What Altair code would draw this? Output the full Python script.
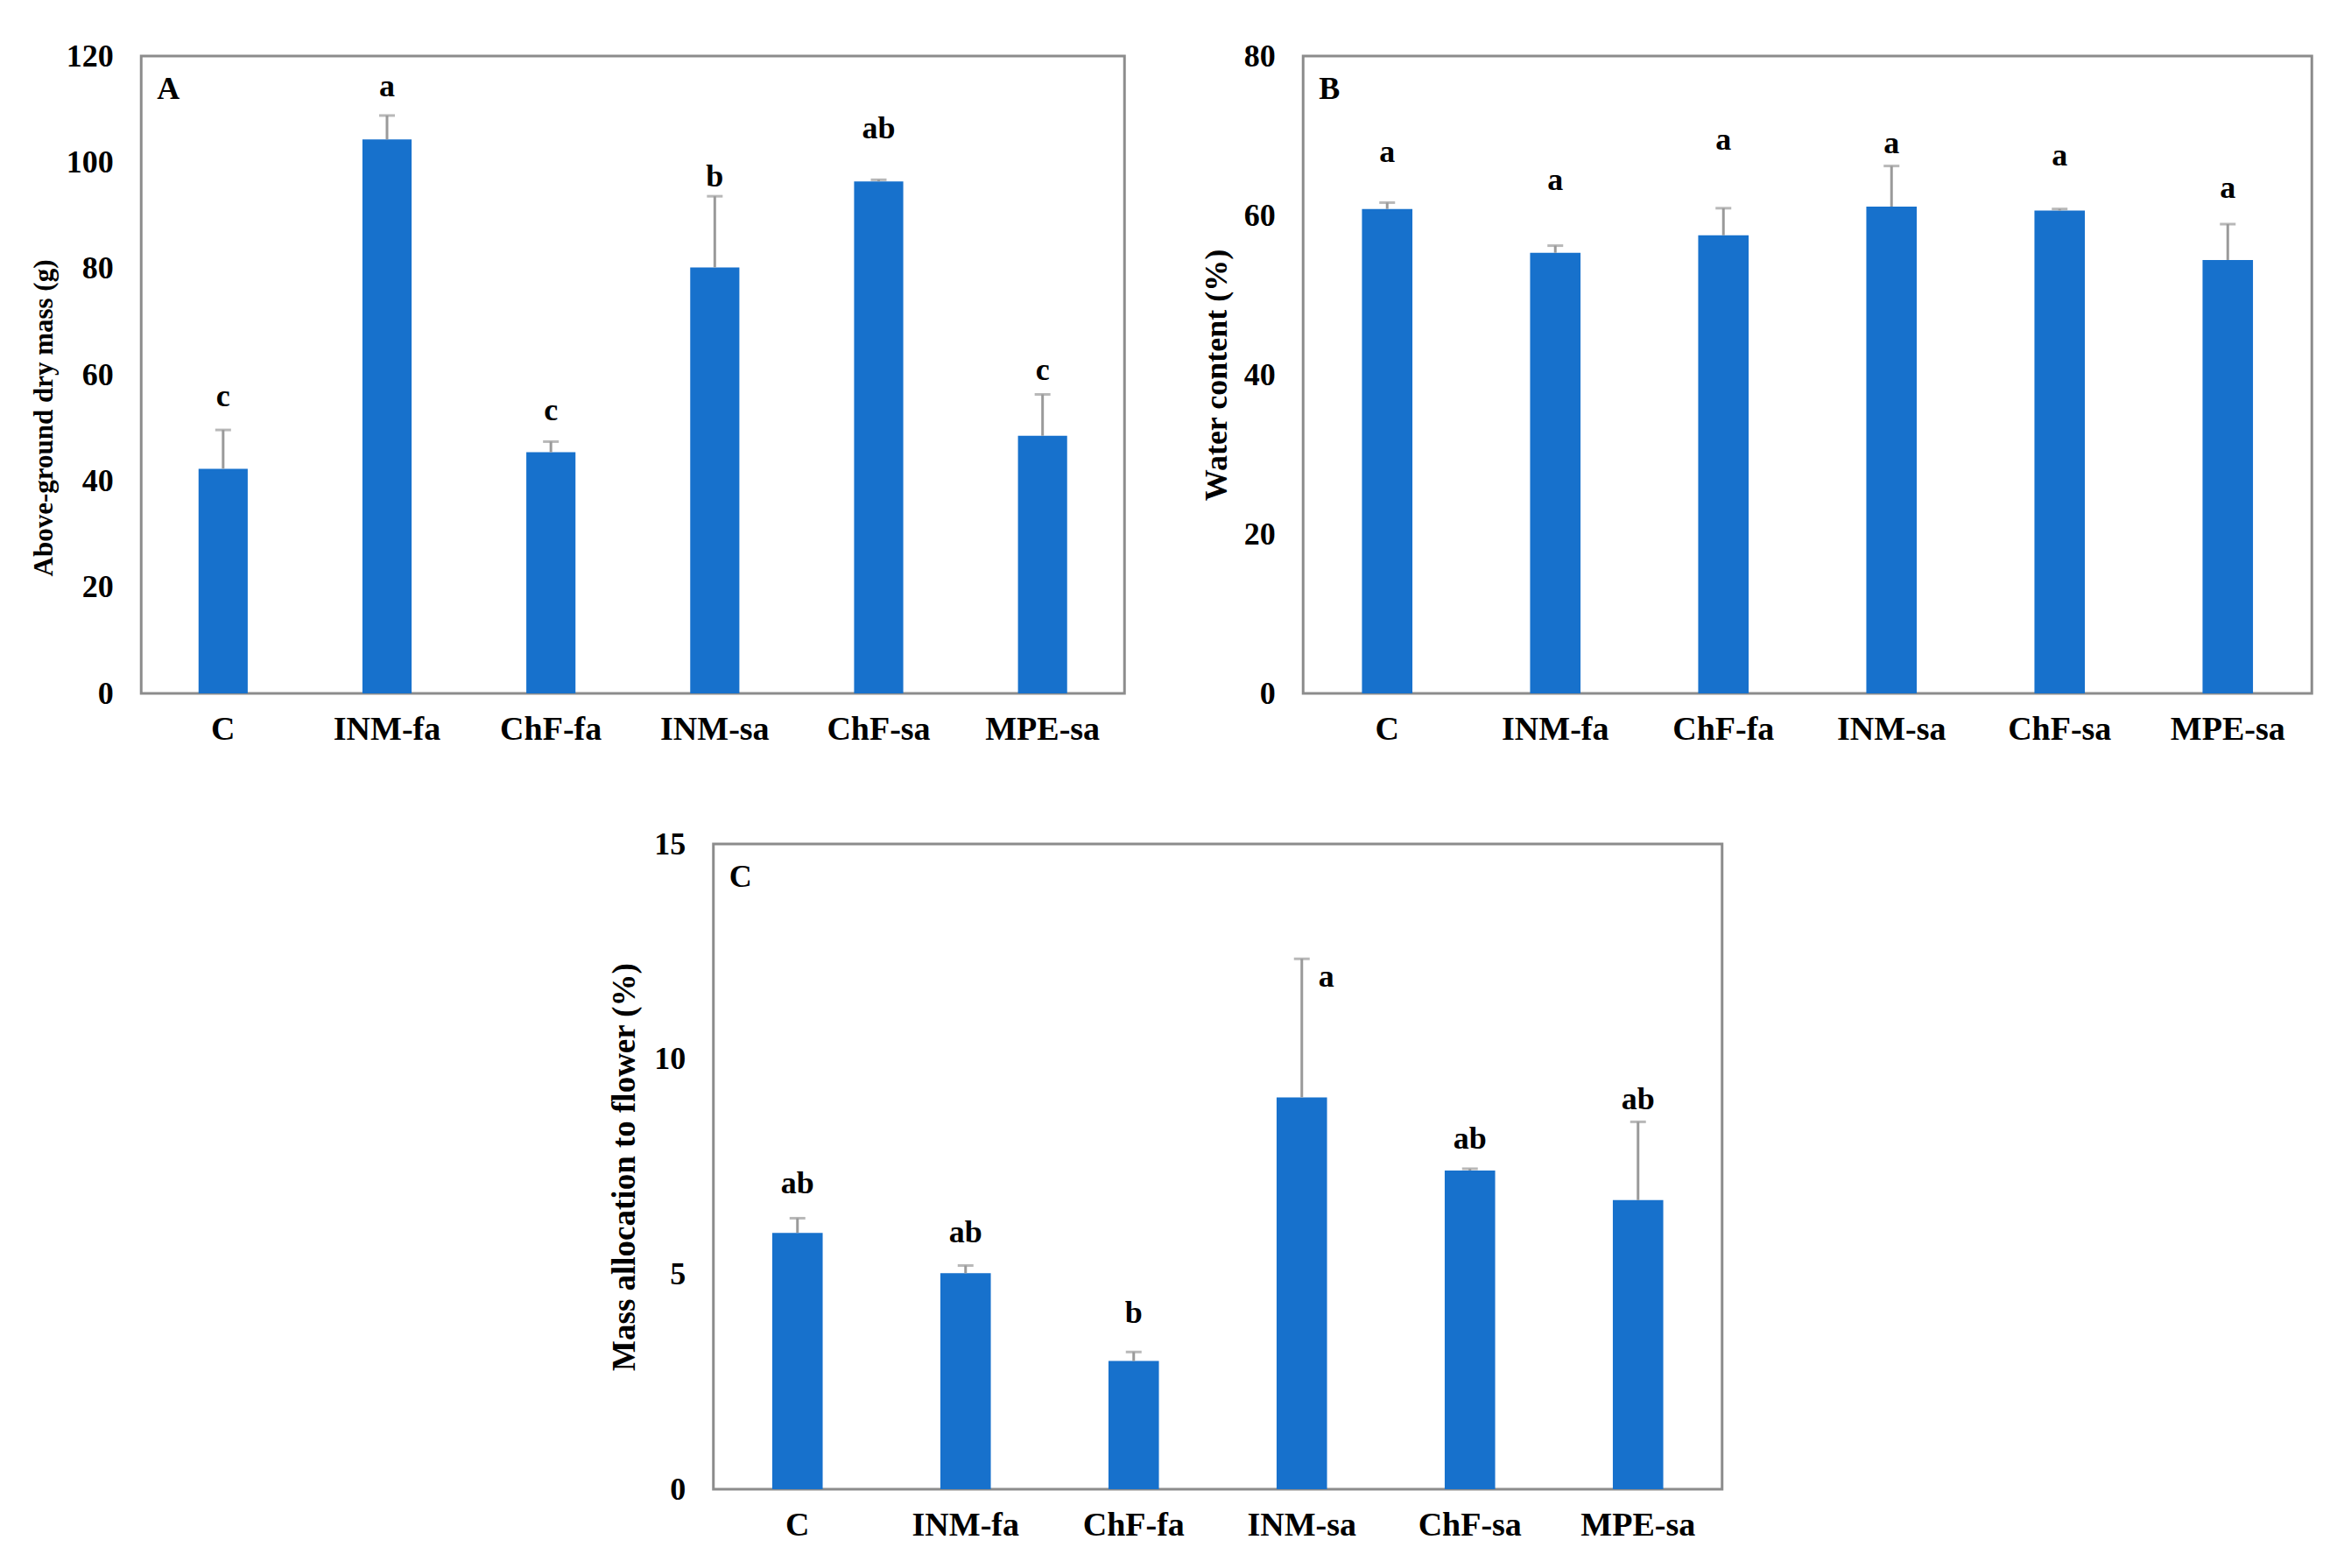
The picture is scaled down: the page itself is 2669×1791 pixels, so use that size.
import altair as alt
import pandas as pd

# ---------------- data ----------------
cats = ["C", "INM-fa", "ChF-fa", "INM-sa", "ChF-sa", "MPE-sa"]

a_mean = [42.3, 104.3, 45.4, 80.2, 96.4, 48.5]
a_se = [7.3, 4.5, 2.0, 13.4, 0.3, 7.8]
a_letters = ["c", "a", "c", "b", "ab", "c"]
a_letter_y = [55.8, 114.2, 53.3, 97.3, 106.3, 60.8]

b_mean = [60.8, 55.3, 57.5, 61.1, 60.6, 54.4]
b_se = [0.8, 0.9, 3.4, 5.1, 0.2, 4.5]
b_letters = ["a", "a", "a", "a", "a", "a"]
b_letter_y = [67.9, 64.4, 69.4, 69.0, 67.5, 63.4]

c_mean = [5.96, 5.02, 2.98, 9.11, 7.41, 6.72]
c_se = [0.34, 0.18, 0.21, 3.22, 0.04, 1.82]
c_letters = ["ab", "ab", "b", "a", "ab", "ab"]
c_letter_y = [7.1, 5.96, 4.09, 11.9, 8.14, 9.06]

FONT = "Liberation Serif"
BAR = "#1771CC"
ERR = "#9a9a9a"


def panel(tag, means, ses, letters, letter_y, ymax, ystep, title,
          title_size, title_pad, width, height, shifted=None,
          title_y=None, extra_right=0):
    df = pd.DataFrame({
        "cat": cats,
        "mean": means,
        "up": [m + s for m, s in zip(means, ses)],
        "letter": letters,
        "ly": letter_y,
    })
    x = alt.X("cat:N", sort=cats,
              scale=alt.Scale(paddingInner=0.7, paddingOuter=0.35),
              axis=alt.Axis(title=None, labelAngle=0, labelFont=FONT,
                            labelFontSize=38, labelFontWeight="bold",
                            labelColor="black", labelPadding=22,
                            ticks=False, domain=False, grid=False))
    yscale = alt.Scale(domain=[0, ymax], nice=False, zero=True)
    axis_kw = dict(values=list(range(0, ymax + 1, ystep)), title=title,
                   titleFont=FONT, titleFontSize=title_size,
                   titleFontWeight="bold", titleColor="black",
                   titlePadding=title_pad, labelFont=FONT,
                   labelFontSize=36, labelFontWeight="bold",
                   labelColor="black", labelPadding=32,
                   ticks=False, domain=False, grid=False)
    if title_y is not None:
        axis_kw["titleY"] = title_y
    yaxis = alt.Axis(**axis_kw)
    base = alt.Chart(df)
    bars = base.mark_bar(color=BAR).encode(
        x=x, y=alt.Y("mean:Q", scale=yscale, axis=yaxis))
    rule = base.mark_rule(color=ERR, strokeWidth=3).encode(
        x=x, y="mean:Q", y2="up:Q")
    cap = base.mark_tick(color=ERR, thickness=3, size=18).encode(
        x=x, y="up:Q")
    txt_kw = dict(font=FONT, fontSize=36, fontWeight="bold", color="black",
                  baseline="middle")
    if shifted is None:
        text = base.mark_text(**txt_kw).encode(x=x, y="ly:Q", text="letter:N")
        layers = [bars, rule, cap, text]
    else:
        text = base.transform_filter(alt.datum.cat != shifted).mark_text(
            **txt_kw).encode(x=x, y="ly:Q", text="letter:N")
        text2 = base.transform_filter(alt.datum.cat == shifted).mark_text(
            dx=28, **txt_kw).encode(x=x, y="ly:Q", text="letter:N")
        layers = [bars, rule, cap, text, text2]
    tagdf = pd.DataFrame({"t": [tag]})
    tagc = alt.Chart(tagdf).mark_text(
        align="left", baseline="middle", font=FONT, fontSize=36,
        fontWeight="bold", color="black").encode(
        x=alt.value(18), y=alt.value(38), text="t:N")
    layers.append(tagc)
    if extra_right:
        pad = alt.Chart(tagdf).mark_text(
            align="right", baseline="middle", font=FONT, fontSize=36,
            opacity=0).encode(
            x=alt.value(width + extra_right), y=alt.value(height),
            text=alt.value("."))
        layers.append(pad)
    return alt.layer(*layers).properties(width=width, height=height)


pa = panel("A", a_mean, a_se, a_letters, a_letter_y, 120, 20,
           "Above-ground  dry  mass (g)", 31, 9, 1123, 728, title_y=413)
pb = panel("B", b_mean, b_se, b_letters, b_letter_y, 80, 20,
           "Water content  (%)", 36, 12, 1152, 728)
pc = panel("C", c_mean, c_se, c_letters, c_letter_y, 15, 5,
           "Mass allocation to flower (%)", 37, 14, 1152, 737,
           shifted="INM-sa", extra_right=20)

top = alt.hconcat(pa, pb, spacing=83)
chart = alt.vconcat(top, pc, spacing=90, center=True).properties(
    padding={"left": 24, "top": 36, "right": 5, "bottom": 5},
    background="white",
).configure_view(stroke="#8c8c8c", strokeWidth=3)

chart.save("out.html", embed_options={"renderer": "svg", "actions": False})
